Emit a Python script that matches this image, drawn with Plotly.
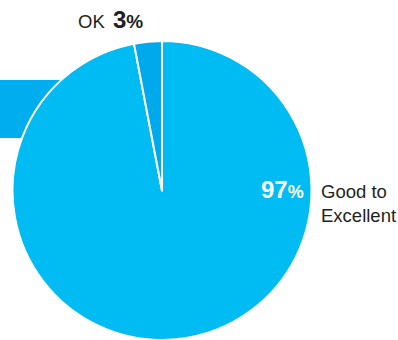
import plotly.graph_objects as go

# Survey rating split (clockwise from 12 o'clock)
labels = ["Good to Excellent", "OK"]
values = [97, 3]
slice_colors = ["#00BCF2", "#00A9EC"]

FONT = "Liberation Sans, Arial, sans-serif"
INK = "#231F20"

W, H = 398, 340

fig = go.Figure(
    go.Pie(
        labels=labels,
        values=values,
        sort=False,
        direction="clockwise",
        rotation=0,
        textinfo="none",
        hoverinfo="label+percent",
        marker=dict(colors=slice_colors, line=dict(color="white", width=2)),
        domain=dict(x=[12 / W, 312 / W], y=[0, 299 / H]),
        showlegend=False,
    )
)

# Blue tab partly tucked behind the pie
fig.add_shape(
    type="rect", xref="paper", yref="paper",
    x0=0, x1=80 / W, y0=1 - 138 / H, y1=1 - 80 / H,
    fillcolor="#00AEEF", line=dict(width=0), layer="below",
)


def pct_text(v, big, small):
    return (f"<b><span style='font-size:{big}px'>{v}</span>"
            f"<span style='font-size:{small}px'>%</span></b>")


# "OK" and its share above the pie
fig.add_annotation(
    x=76 / W, y=1 - 21 / H, xref="paper", yref="paper",
    xanchor="left", yanchor="middle", showarrow=False,
    text=labels[1],
    font=dict(family=FONT, color=INK, size=18.5),
)
fig.add_annotation(
    x=111 / W, y=1 - 19 / H, xref="paper", yref="paper",
    xanchor="left", yanchor="middle", showarrow=False,
    text=pct_text(values[1], 24, 19),
    font=dict(family=FONT, color=INK),
)

# "97%" inside the large slice
fig.add_annotation(
    x=306 / W, y=1 - 189 / H, xref="paper", yref="paper",
    xanchor="right", yanchor="middle", showarrow=False,
    text=pct_text(values[0], 24, 18),
    font=dict(family=FONT, color="white"),
)

# Category label beside the pie
fig.add_annotation(
    x=319 / W, y=1 - 203 / H, xref="paper", yref="paper",
    xanchor="left", yanchor="middle", showarrow=False, align="left",
    text="Good to<br>Excellent",
    font=dict(family=FONT, color=INK, size=18.5),
)

fig.update_layout(
    width=W, height=H,
    margin=dict(l=0, r=0, t=0, b=0),
    paper_bgcolor="white", plot_bgcolor="white",
)

fig.write_html("out.html")
